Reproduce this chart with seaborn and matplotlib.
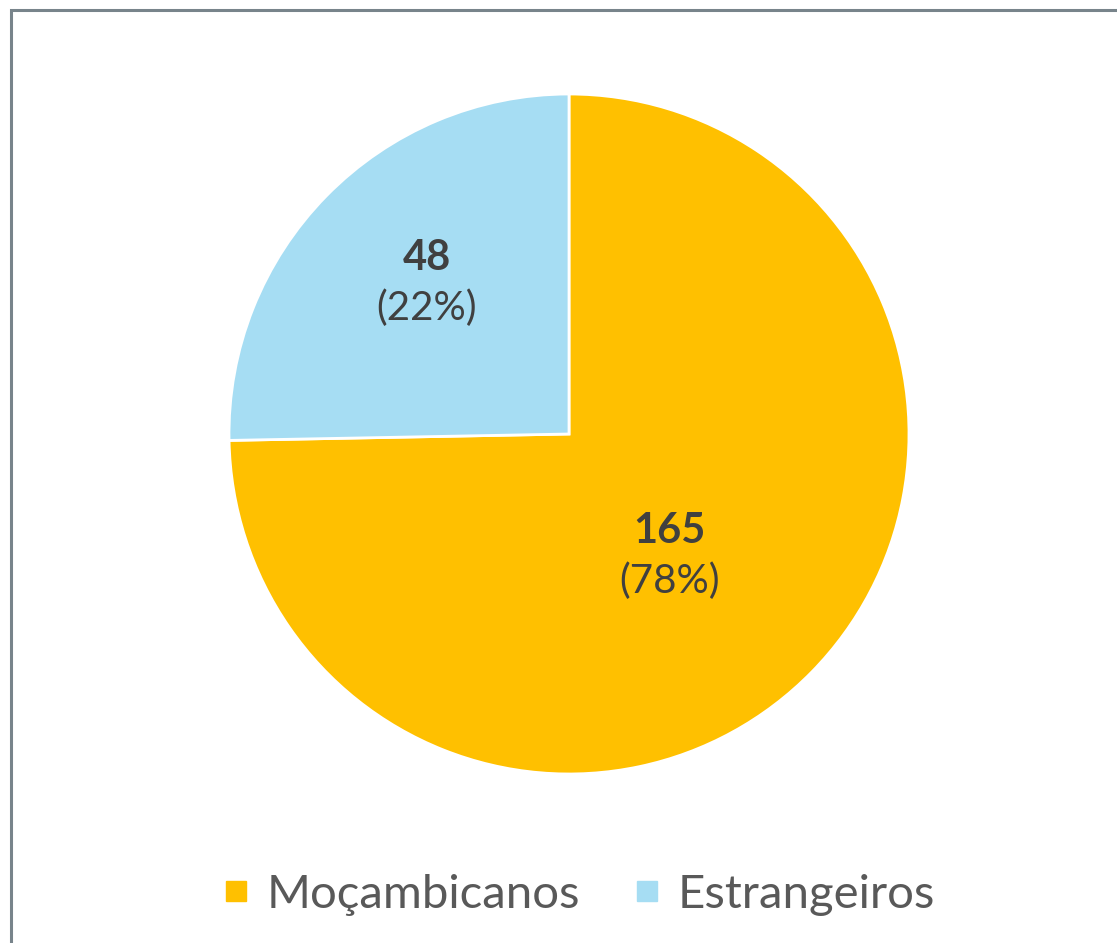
import matplotlib
matplotlib.use("Agg")
import matplotlib.pyplot as plt
import matplotlib.patches as mpatches
from matplotlib.lines import Line2D
import numpy as np
import seaborn as sns

# data
categories = ["Moçambicanos", "Estrangeiros"]
counts = [165, 48]
pct_labels = ["78%", "22%"]
wedge_share = [74.7, 25.3]  # angular share as drawn in the reference
colors = ["#FFC000", "#A6DDF3"]

sns.set_theme(style="white")
plt.rcParams['font.family'] = ['Lato', 'DejaVu Sans']

W, H = 1117, 943
fig = plt.figure(figsize=(W / 100, H / 100), dpi=100)

# pie centre (569, 434) px, radius 340 px
cx, cy, r = 569, 434, 340
ax = fig.add_axes([(cx - r) / W, (H - cy - r) / H, 2 * r / W, 2 * r / H])
wedges, _ = ax.pie(wedge_share, colors=colors, startangle=90, counterclock=False,
                   wedgeprops=dict(edgecolor="white", linewidth=2))
ax.set_xlim(-1, 1)
ax.set_ylim(-1, 1)
ax.axis("off")

# data labels inside the slices
label_dist = [0.465, 0.61]
label_turn = [-6.0, -2.3]  # degrees off the slice middle
for w, n, p, d, t in zip(wedges, counts, pct_labels, label_dist, label_turn):
    ang = np.deg2rad((w.theta1 + w.theta2) / 2 + t)
    x, y = d * np.cos(ang), d * np.sin(ang)
    ax.text(x, y + 0.072, str(n), ha="center", va="center", fontsize=30,
            fontweight="bold", color="#404040")
    ax.text(x, y - 0.075, "(" + p + ")", ha="center", va="center", fontsize=29,
            color="#404040")

# legend
handles = [Line2D([], [], marker="s", linestyle="", markersize=15,
                  markerfacecolor=c, markeredgecolor=c) for c in colors]
fig.legend(handles, categories, loc="center", bbox_to_anchor=(576 / W, 1 - 895 / H),
           ncol=2, frameon=False, fontsize=34, labelcolor="#595959",
           handletextpad=0.25, columnspacing=1.0, handlelength=0.8)

# chart border (right and bottom run off the image)
fig.patches.append(mpatches.Rectangle((11 / W, -0.05), 1.2, 1.05 - 10 / H,
                                      transform=fig.transFigure, fill=False,
                                      edgecolor="#78848b", linewidth=2.2))

fig.savefig("out.png", dpi=100)
